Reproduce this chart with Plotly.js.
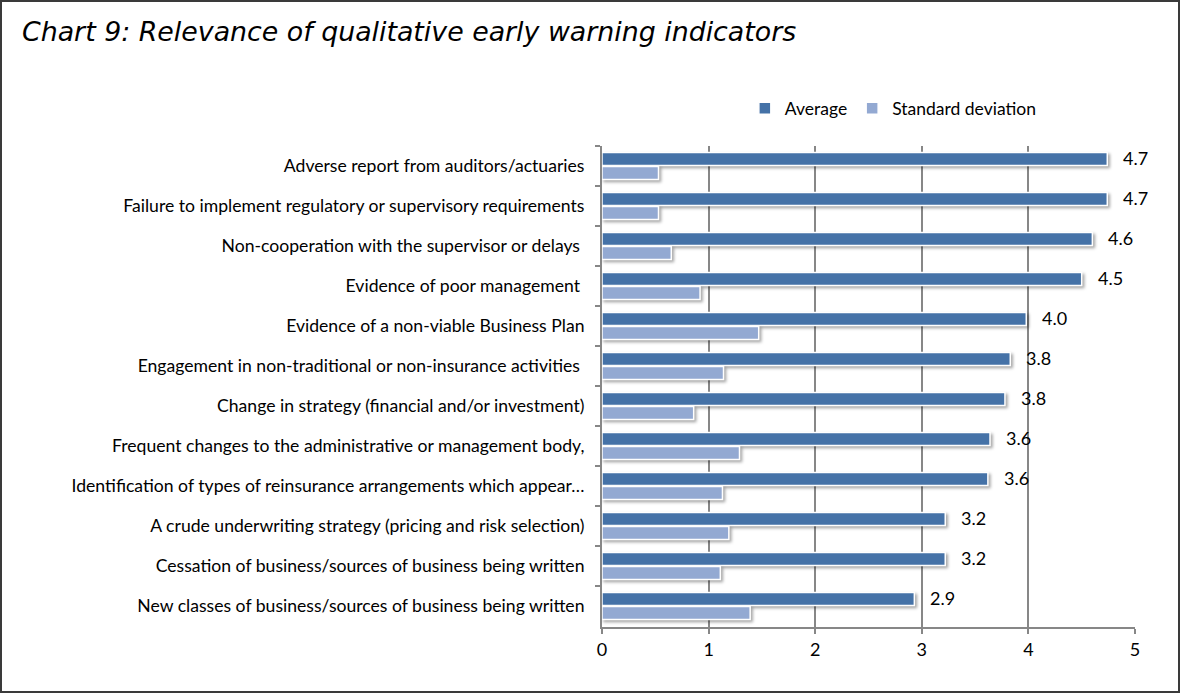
<!DOCTYPE html>
<html>
<head>
<meta charset="utf-8">
<script src="https://cdn.plot.ly/plotly-3.0.1.min.js"></script>
<style>
html,body{margin:0;padding:0;background:#fff;}
#frame{width:1176px;height:689px;border:2px solid #3a3a3a;position:relative;}
#chart{width:1176px;height:689px;}
.barlayer .point path{filter:drop-shadow(2px 2px 1.5px rgba(0,0,0,0.35));}
</style>
</head>
<body>
<div id="frame"><div id="chart"></div></div>
<script>
const categories = [
  "Adverse report from auditors/actuaries",
  "Failure to implement regulatory or supervisory requirements",
  "Non-cooperation with the supervisor or delays ",
  "Evidence of poor management ",
  "Evidence of a non-viable Business Plan",
  "Engagement in non-traditional or non-insurance activities ",
  "Change in strategy (financial and/or investment)",
  "Frequent changes to the administrative or management body,",
  "Identification of types of reinsurance arrangements which appear…",
  "A crude underwriting strategy (pricing and risk selection)",
  "Cessation of business/sources of business being written",
  "New classes of business/sources of business being written"
];
const average = [4.74, 4.74, 4.60, 4.50, 3.98, 3.83, 3.78, 3.64, 3.62, 3.22, 3.22, 2.93];
const stdDev  = [0.53, 0.53, 0.65, 0.92, 1.47, 1.14, 0.86, 1.29, 1.13, 1.19, 1.11, 1.39];
const seriesNames = ["Average", "Standard deviation"];
const xTicks = [0, 1, 2, 3, 4, 5];

const FONT = "Lato, 'Open Sans', sans-serif";
const cAvg = "#4572a7";
const cStd = "#93a9d2";

const traces = [
  {type:"bar", orientation:"h", name:seriesNames[0], y:categories, x:average,
   marker:{color:cAvg, line:{color:"#ffffff", width:1.5}}, hoverinfo:"x+y"},
  {type:"bar", orientation:"h", name:seriesNames[1], y:categories, x:stdDev,
   marker:{color:cStd, line:{color:"#ffffff", width:1.5}}, hoverinfo:"x+y"}
];

const annotations = average.map((v, i) => ({
  x: v, y: categories[i], xref:"x", yref:"y",
  text: v.toFixed(1), showarrow:false, xanchor:"left", yanchor:"middle",
  xshift: 14, yshift: 8,
  font:{family:FONT, size:18, color:"#000"}
}));

const layout = {
  width:1176, height:689, autosize:false,
  paper_bgcolor:"#ffffff", plot_bgcolor:"#ffffff",
  margin:{l:600, r:43, t:144, b:64, autoexpand:false},
  title:{text:"<i>Chart 9: Relevance of qualitative early warning indicators</i>",
         font:{family:"'DejaVu Sans', Verdana, sans-serif", size:26.8, color:"#000"},
         x:20/1176, xanchor:"left", y:1-30/689, yanchor:"middle", xref:"container", yref:"container"},
  barmode:"group", bargap:0.3, bargroupgap:0.08,
  showlegend:true,
  legend:{orientation:"h", x:0.268, xanchor:"left", y:1.078, yanchor:"middle",
          xref:"paper", yref:"paper", font:{family:FONT, size:17.5, color:"#000"},
          traceorder:"normal", bgcolor:"rgba(0,0,0,0)"},
  xaxis:{range:[0,5], tickvals:xTicks, ticktext:xTicks.map(String),
         showgrid:true, gridcolor:"#878787", gridwidth:2,
         showline:true, linecolor:"#878787", linewidth:2,
         ticks:"outside", ticklen:5, tickcolor:"#878787", tickwidth:2,
         tickfont:{family:FONT, size:18, color:"#000"}, zeroline:false, fixedrange:true},
  yaxis:{autorange:"reversed", showgrid:false,
         showline:true, linecolor:"#878787", linewidth:2,
         ticks:"outside", ticklen:5, tickcolor:"#878787", tickwidth:2,
         tickson:"boundaries",
         ticklabelstandoff:12,
         tickfont:{family:FONT, size:17.6, color:"#000"}, fixedrange:true},
  annotations: annotations
};

Plotly.newPlot("chart", traces, layout, {displayModeBar:false, staticPlot:true});
</script>
</body>
</html>
